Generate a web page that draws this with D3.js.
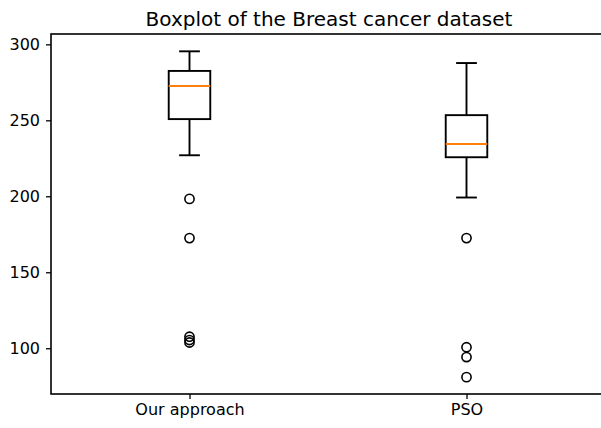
<!DOCTYPE html>
<html><head><meta charset="utf-8">
<script src="https://cdn.jsdelivr.net/npm/d3@7"></script>
<style>html,body{margin:0;padding:0;background:#fff;overflow:hidden}svg{display:block}</style>
</head><body>
<svg id="chart" width="601" height="428"></svg>
<script>
const categories = ["Our approach", "PSO"];
const whiskerLow = [227.0, 199.2];
const q1 = [250.8, 225.7];
const median = [272.6, 234.4];
const q3 = [282.5, 253.4];
const whiskerHigh = [295.4, 287.7];
const outliers = [[198.3, 172.5, 107.6, 105.4, 103.8], [172.5, 100.7, 94.2, 81.0]];
const yTicks = [100, 150, 200, 250, 300];
const title = "Boxplot of the Breast cancer dataset";

const svg = d3.select("#chart");
const m = {left: 51, right: 605, top: 34, bottom: 394};
const x = d3.scaleLinear().domain([0.5, 2.5]).range([m.left, m.right]);
const y = d3.scaleLinear().domain([69.9, 306.8]).range([m.bottom, m.top]);
const font = "DejaVu Sans, sans-serif";
const boxW = x(1.15) - x(1.0);
const capW = boxW / 2;

svg.append("text").attr("x", (m.left + m.right) / 2 + 1).attr("y", 25.5)
  .attr("text-anchor", "middle").attr("font-family", font).attr("font-size", 20)
  .attr("fill", "#000").text(title);

const yAxis = svg.append("g").attr("transform", `translate(${m.left},0)`)
  .call(d3.axisLeft(y).tickValues(yTicks).tickSize(5).tickPadding(6));
yAxis.select(".domain").remove();
yAxis.selectAll("text").attr("font-family", font).attr("font-size", 16).attr("fill", "#000");
yAxis.selectAll("line").attr("stroke", "#000").attr("stroke-width", 1.3);

const xAxis = svg.append("g").attr("transform", `translate(0,${m.bottom})`)
  .call(d3.axisBottom(x).tickValues([1, 2]).tickFormat(d => categories[d - 1]).tickSize(5).tickPadding(5));
xAxis.select(".domain").remove();
xAxis.selectAll("text").attr("font-family", font).attr("font-size", 16).attr("fill", "#000");
xAxis.selectAll("line").attr("stroke", "#000").attr("stroke-width", 1.3);

svg.append("rect").attr("x", m.left).attr("y", m.top)
  .attr("width", m.right - m.left).attr("height", m.bottom - m.top)
  .attr("fill", "none").attr("stroke", "#000").attr("stroke-width", 1.6);

categories.forEach((c, i) => {
  const cx = x(i + 1);
  const g = svg.append("g").attr("stroke", "#000").attr("stroke-width", 1.9).attr("fill", "none");
  g.append("line").attr("x1", cx).attr("x2", cx).attr("y1", y(q3[i])).attr("y2", y(whiskerHigh[i]));
  g.append("line").attr("x1", cx).attr("x2", cx).attr("y1", y(q1[i])).attr("y2", y(whiskerLow[i]));
  g.append("line").attr("x1", cx - capW / 2).attr("x2", cx + capW / 2).attr("y1", y(whiskerHigh[i])).attr("y2", y(whiskerHigh[i]));
  g.append("line").attr("x1", cx - capW / 2).attr("x2", cx + capW / 2).attr("y1", y(whiskerLow[i])).attr("y2", y(whiskerLow[i]));
  g.append("rect").attr("x", cx - boxW / 2).attr("y", y(q3[i]))
    .attr("width", boxW).attr("height", y(q1[i]) - y(q3[i]));
  svg.append("line").attr("x1", cx - boxW / 2).attr("x2", cx + boxW / 2)
    .attr("y1", y(median[i])).attr("y2", y(median[i]))
    .attr("stroke", "#ff7f0e").attr("stroke-width", 1.9);
  svg.selectAll(null).data(outliers[i]).enter().append("circle")
    .attr("cx", cx).attr("cy", d => y(d)).attr("r", 4.6)
    .attr("fill", "none").attr("stroke", "#000").attr("stroke-width", 1.6);
});
</script>
</body></html>
